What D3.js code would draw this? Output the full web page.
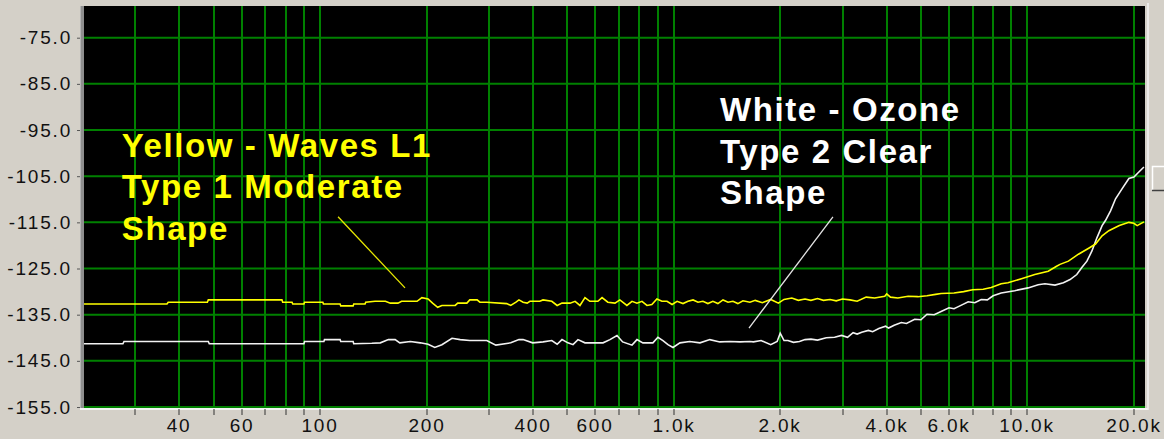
<!DOCTYPE html>
<html><head><meta charset="utf-8">
<script src="https://cdn.jsdelivr.net/npm/d3@7"></script>
<style>
html,body{margin:0;padding:0;background:#d4d0c8;}
svg{display:block;}
</style></head><body>
<svg id="chart" width="1164" height="439"></svg>
<script>
// ---- data ----
const yTicks = [-75, -85, -95, -105, -115, -125, -135, -145, -155];
const xGrid = [30,40,50,60,70,80,90,100,200,300,400,500,600,700,800,900,1000,2000,3000,4000,5000,6000,7000,8000,9000,10000,20000];
const xLabels = [40,60,100,200,400,600,1000,2000,4000,6000,10000,20000];

const yellowHz = [21.5,36.9,37.2,48.0,48.3,78.0,78.4,83.3,83.7,90.0,90.4,101.8,102.2,113.9,114.4,124.0,124.5,134.0,134.6,143,153,158,166,170,188,194,202,208,215,221,241,245,260,265,278,283,296,337,346,358,365,375,385,392,418,427,452,468,483,509,526,543,561,579,610,627,651,682,704,737,762,787,813,840,867,896,926,957,989,1022,1062,1097,1134,1171,1209,1249,1290,1333,1378,1424,1470,1518,1569,1642,1700,1780,1880,1976,2050,2157,2250,2350,2443,2550,2650,2767,2880,3000,3150,3300,3500,3700,3950,4000,4100,4300,4600,4900,5200,5500,5700,6200,6600,7000,7500,7900,8430,8810,9620,10490,11450,12090,12360,13060,13940,14900,15580,16260,16990,18190,19360,20000,20430,21350];
const yellowDb = [-132.7,-132.7,-132.3,-132.3,-131.8,-131.8,-132.3,-132.3,-132.7,-132.7,-132.3,-132.3,-132.7,-132.7,-133.1,-133.1,-132.7,-132.7,-132.3,-132.1,-132.1,-132.5,-132.5,-132.1,-132.1,-131.3,-131.6,-132.5,-133.4,-133.0,-133.0,-132.5,-132.5,-131.8,-131.8,-132.3,-132.3,-132.6,-133.0,-132.3,-131.8,-132.3,-132.5,-132.1,-132.1,-131.8,-132.1,-133.0,-132.5,-132.5,-132.1,-133.0,-131.3,-132.1,-132.1,-131.3,-132.3,-132.5,-131.8,-133.0,-132.1,-132.5,-132.1,-133.0,-132.8,-131.6,-132.1,-132.1,-132.8,-132.1,-132.6,-132.1,-131.8,-132.3,-132.1,-132.6,-132.1,-132.6,-131.8,-132.3,-132.1,-132.6,-132.0,-132.3,-131.9,-132.4,-131.7,-132.5,-131.7,-131.4,-131.9,-131.6,-131.9,-131.5,-131.9,-131.7,-132.0,-131.6,-131.8,-132.1,-131.2,-131.4,-131.0,-130.5,-131.2,-131.4,-131.0,-131.1,-130.9,-130.6,-130.4,-130.3,-130.0,-129.6,-129.5,-129.1,-128.3,-128.1,-127.2,-126.3,-125.6,-124.5,-124.1,-123.4,-121.9,-120.6,-119.7,-117.9,-116.8,-115.7,-115.0,-115.2,-115.7,-114.9];

const whiteHz = [21.5,27.7,27.9,48.3,48.6,90.0,90.4,102.5,102.9,113.9,114.4,124.0,124.5,140,148,156,163,168,180,192,202,211,221,236,249,265,296,314,346,365,375,399,427,452,468,483,502,519,536,561,590,631,660,691,717,762,787,818,873,902,932,963,995,1041,1110,1186,1265,1350,1442,1539,1642,1680,1766,1880,1960,2000,2050,2103,2180,2267,2350,2443,2550,2699,2850,2982,3100,3214,3300,3400,3551,3650,3800,3973,4050,4200,4400,4550,4800,5000,5200,5450,5700,6000,6200,6400,6800,7100,7400,7700,8000,8430,9203,10044,10725,11206,11965,12640,13200,13790,14250,14730,15220,15730,16260,16620,17180,17750,18530,19360,20000,20660,21350];
const whiteDb = [-141.3,-141.3,-140.8,-140.8,-141.3,-141.3,-140.8,-140.8,-140.4,-140.4,-140.8,-140.8,-141.3,-141.2,-141.1,-140.4,-140.4,-141.1,-140.8,-141.1,-141.4,-142.1,-141.5,-140.1,-140.4,-140.6,-140.6,-141.6,-141.1,-140.4,-140.4,-141.1,-140.9,-140.6,-141.4,-140.4,-141.1,-141.5,-140.4,-141.1,-141.1,-141.1,-140.4,-139.5,-140.9,-141.6,-140.4,-141.1,-141.1,-139.9,-140.6,-141.5,-142.1,-141.1,-140.8,-141.1,-140.4,-140.9,-140.8,-140.9,-140.8,-140.9,-140.6,-141.5,-140.8,-139.0,-140.6,-140.6,-141.0,-140.8,-140.4,-140.3,-140.5,-140.0,-139.9,-139.5,-139.9,-138.9,-139.2,-138.8,-138.4,-138.7,-138.0,-137.5,-137.9,-137.3,-136.7,-136.9,-136.0,-136.1,-134.9,-135.0,-134.3,-133.5,-133.7,-133.2,-132.2,-132.4,-131.7,-131.8,-130.9,-130.3,-129.8,-129.2,-128.5,-128.3,-128.6,-128.1,-127.4,-126.3,-124.8,-123.4,-121.2,-118.3,-115.7,-114.6,-112.5,-109.9,-107.7,-105.5,-105.2,-104.1,-103.0];

const yellowNote = ["Yellow - Waves L1", "Type 1 Moderate", "Shape"];
const whiteNote = ["White - Ozone", "Type 2 Clear", "Shape"];

// ---- layout ----
const plot = {left: 84, right: 1145, top: 6, bottom: 407};
const svg = d3.select("#chart");

const x = d3.scaleLog().domain([21.5, 21500]).range([plot.left, plot.right]);
const y = d3.scaleLinear().domain([-155, -75]).range([plot.bottom, 37.7]);

// plot background
svg.append("rect").attr("x", plot.left).attr("y", plot.top)
  .attr("width", plot.right - plot.left).attr("height", plot.bottom - plot.top + 1)
  .attr("fill", "#000");

// gridlines
const grid = svg.append("g").attr("stroke", "#008000").attr("stroke-width", 2);
grid.selectAll("line.v").data(xGrid).join("line").attr("class", "v")
  .attr("x1", d => Math.round(x(d))).attr("x2", d => Math.round(x(d)))
  .attr("y1", plot.top).attr("y2", plot.bottom);
grid.selectAll("line.h").data(yTicks).join("line").attr("class", "h")
  .attr("x1", plot.left).attr("x2", plot.right)
  .attr("y1", d => y(d)).attr("y2", d => y(d));

// clip
svg.append("clipPath").attr("id", "clip").append("rect")
  .attr("x", plot.left).attr("y", plot.top)
  .attr("width", plot.right - plot.left).attr("height", plot.bottom - plot.top);

const line = d3.line().x(d => x(d[0])).y(d => y(d[1]));
const yellowData = yellowHz.map((f, i) => [f, yellowDb[i]]);
const whiteData = whiteHz.map((f, i) => [f, whiteDb[i]]);

const curves = svg.append("g").attr("clip-path", "url(#clip)");
curves.append("path").datum(whiteData).attr("d", line)
  .attr("fill", "none").attr("stroke", "#f2f2f2").attr("stroke-width", 1.6);
curves.append("path").datum(yellowData).attr("d", line)
  .attr("fill", "none").attr("stroke", "#ffff00").attr("stroke-width", 1.6);

// annotations
const notes = [
  {lines: yellowNote, at: [27.5, -100.8], color: "#ffff00", lead: [[112.4, -113.8], [173.8, -129.2]], leadColor: "#e8e800"},
  {lines: whiteNote, at: [1351, -93.1], color: "#ffffff", lead: [[2819, -113.8], [1632, -137.9]], leadColor: "#e6e6e6"}
];
notes.forEach(n => {
  svg.append("line")
    .attr("x1", x(n.lead[0][0])).attr("y1", y(n.lead[0][1]))
    .attr("x2", x(n.lead[1][0])).attr("y2", y(n.lead[1][1]))
    .attr("stroke", n.leadColor).attr("stroke-width", 1.3);
  const t = svg.append("text")
    .attr("x", x(n.at[0])).attr("y", y(n.at[1]))
    .attr("fill", n.color)
    .style("font-family", "'Liberation Sans', Arial, sans-serif")
    .style("font-weight", "bold").style("font-size", "33px")
    .style("letter-spacing", "1.6px");
  n.lines.forEach((s, i) => {
    t.append("tspan").attr("x", x(n.at[0])).attr("dy", i === 0 ? 0 : 41.5).text(s);
  });
});

// left axis bar
svg.append("rect").attr("x", 80).attr("y", plot.top).attr("width", 4)
  .attr("height", plot.bottom - plot.top + 3).attr("fill", "#8e8e8e");
svg.append("line").attr("x1", 80.5).attr("x2", 80.5).attr("y1", plot.top).attr("y2", plot.bottom + 3)
  .attr("stroke", "#b4b4b4").attr("stroke-width", 1);

// bottom highlight line
svg.append("line").attr("x1", 80).attr("x2", plot.right + 3)
  .attr("y1", plot.bottom + 2).attr("y2", plot.bottom + 2)
  .attr("stroke", "#f4f4f4").attr("stroke-width", 2);

// right border line and slider
svg.append("line").attr("x1", 1148).attr("x2", 1148).attr("y1", 3).attr("y2", plot.bottom + 3)
  .attr("stroke", "#f2f2f2").attr("stroke-width", 1.5);
svg.append("path").attr("d", "M1164,166.5 H1152.5 V190").attr("fill", "none")
  .attr("stroke", "#ffffff").attr("stroke-width", 1.5);
svg.append("line").attr("x1", 1152).attr("x2", 1164).attr("y1", 190.5).attr("y2", 190.5)
  .attr("stroke", "#404040").attr("stroke-width", 1.5);

// y axis labels
const fontAxis = "'Liberation Sans', Arial, sans-serif";
const yAxis = d3.axisLeft(y).tickValues(yTicks).tickSize(3).tickPadding(5)
  .tickFormat(d => d.toFixed(1));
const gy = svg.append("g").attr("transform", `translate(80,0)`).call(yAxis);
gy.select(".domain").remove();
gy.selectAll(".tick line").attr("stroke", "#555");
gy.selectAll(".tick text").attr("fill", "#111")
  .style("font-family", fontAxis).style("font-size", "19px").style("letter-spacing", "1.8px");

// x axis ticks & labels
const labelSet = new Set(xLabels);
const fmtX = d => labelSet.has(d) ? (d >= 1000 ? (d / 1000).toFixed(1) + "k" : String(d)) : "";
const xAxis = d3.axisBottom(x).tickValues(xGrid).tickSize(6).tickPadding(4).tickFormat(fmtX);
const gx = svg.append("g").attr("transform", `translate(0,${plot.bottom + 2})`).call(xAxis);
gx.select(".domain").remove();
gx.selectAll(".tick").attr("transform", d => `translate(${Math.round(x(d))},0)`);
gx.selectAll(".tick line").attr("stroke", "#333");
gx.selectAll(".tick text").attr("fill", "#111")
  .style("font-family", fontAxis).style("font-size", "19px").style("letter-spacing", "1.8px");
</script>
</body></html>
